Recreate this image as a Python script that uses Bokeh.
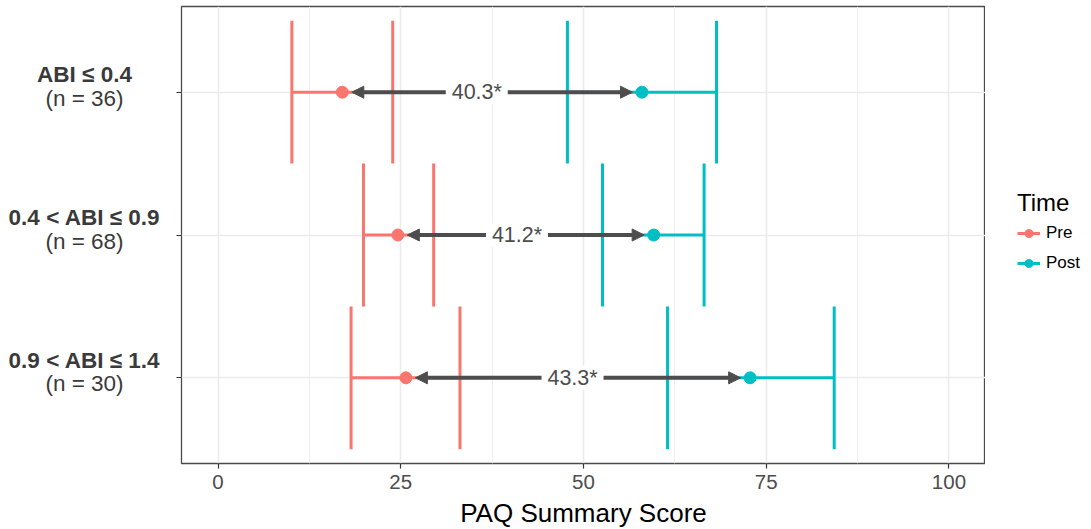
from bokeh.plotting import figure
from bokeh.models import (Range1d, FixedTicker, Arrow, NormalHead, ColumnDataSource,
                          Legend, LegendItem)
from bokeh.layouts import row
from bokeh.embed import file_html
from bokeh.resources import INLINE
from bokeh.core.properties import value

# ---------------- data ----------------
groups = ["ABI \u2264 0.4", "0.4 < ABI \u2264 0.9", "0.9 < ABI \u2264 1.4"]
group_n = [36, 68, 30]
pre_mean = [17.0, 24.6, 25.7]
pre_lower = [10.1, 19.9, 18.2]
pre_upper = [23.9, 29.5, 33.1]
post_mean = [58.0, 59.6, 72.8]
post_lower = [47.8, 52.6, 61.5]
post_upper = [68.2, 66.5, 84.3]
change_labels = ["40.3*", "41.2*", "43.3*"]
change_label_x = [35.4, 40.9, 48.5]
x_ticks = [0, 25, 50, 75, 100]
x_minor = [12.5, 37.5, 62.5, 87.5]
time_levels = ["Pre", "Post"]
time_colors = ["#F8766D", "#00BFC4"]

# ---------------- styling ----------------
FONT = "Liberation Sans"
FRAME_H = 457
TOP = 6
CAP = 0.5          # half height of error-bar caps (category units)
GAP = 1.3          # arrow gap from points (x units)

ypos = list(range(1, len(groups) + 1))
src = ColumnDataSource(dict(
    y=ypos,
    y_lo=[v - CAP for v in ypos],
    y_hi=[v + CAP for v in ypos],
    pre_m=pre_mean, pre_lo=pre_lower, pre_hi=pre_upper,
    post_m=post_mean, post_lo=post_lower, post_hi=post_upper,
    a_x0=[v + GAP for v in pre_mean],
    a_x1=[v - GAP for v in post_mean],
    lab=change_labels, lab_x=change_label_x,
    grp=groups, n_lab=["(n = %d)" % n for n in group_n],
))

yr = Range1d(start=len(groups) + 0.6, end=0.4)
series = [("Pre", time_colors[0], "pre_m", "pre_lo", "pre_hi"),
          ("Post", time_colors[1], "post_m", "post_lo", "post_hi")]

# ---------------- main plot ----------------
p = figure(frame_width=804, frame_height=FRAME_H, x_range=Range1d(-5, 105), y_range=yr,
           output_backend="svg", toolbar_location=None,
           min_border_left=12, min_border_right=0, min_border_top=TOP, min_border_bottom=10)
p.background_fill_color = "white"
p.border_fill_color = "white"
p.outline_line_color = "#4a4a4a"
p.outline_line_width = 1.3

p.xaxis.ticker = FixedTicker(ticks=x_ticks, minor_ticks=x_minor)
p.yaxis.ticker = FixedTicker(ticks=ypos)
p.yaxis.major_label_overrides = {v: "" for v in ypos}
p.yaxis.major_label_standoff = 0

for ax in (p.xaxis[0], p.yaxis[0]):
    ax.axis_line_color = None
    ax.major_tick_line_color = "#333333"
    ax.major_tick_line_width = 1.2
    ax.major_tick_out = 5
    ax.major_tick_in = 0
    ax.minor_tick_line_color = None

p.xaxis.major_label_text_font = FONT
p.xaxis.major_label_text_font_size = "20.5px"
p.xaxis.major_label_text_color = "#4D4D4D"
p.xaxis.major_label_standoff = 6
p.xaxis.axis_label = "PAQ Summary Score"
p.xaxis.axis_label_text_font = FONT
p.xaxis.axis_label_text_font_size = "26px"
p.xaxis.axis_label_text_font_style = "normal"
p.xaxis.axis_label_text_color = "black"
p.xaxis.axis_label_standoff = 6

p.xgrid.grid_line_color = "#EBEBEB"
p.xgrid.grid_line_width = 1.6
p.xgrid.minor_grid_line_color = "#EFEFEF"
p.xgrid.minor_grid_line_width = 1.0
p.ygrid.grid_line_color = "#EBEBEB"
p.ygrid.grid_line_width = 1.6

for lvl, col, m, lo, hi in series:
    p.segment(x0=lo, y0="y", x1=hi, y1="y", source=src, line_color=col, line_width=3)
    p.segment(x0=lo, y0="y_lo", x1=lo, y1="y_hi", source=src, line_color=col, line_width=3)
    p.segment(x0=hi, y0="y_lo", x1=hi, y1="y_hi", source=src, line_color=col, line_width=3)
    p.scatter(x=m, y="y", source=src, size=12, fill_color=col, line_color=col)

arrow = Arrow(start=NormalHead(size=12, fill_color="#4D4D4D", line_color="#4D4D4D"),
              end=NormalHead(size=12, fill_color="#4D4D4D", line_color="#4D4D4D"),
              x_start="a_x0", y_start="y", x_end="a_x1", y_end="y", source=src,
              line_color="#4D4D4D", line_width=4)
p.add_layout(arrow)

bg = p.rect(x="lab_x", y="y", width=62, height=24, width_units="screen", height_units="screen",
            source=src, fill_color="white", line_color=None)
bg.level = "overlay"
tx = p.text(x="lab_x", y="y", text="lab", source=src, text_font=value(FONT),
            text_font_size="21.5px", text_color="#4D4D4D", text_align="center",
            text_baseline="middle")
tx.level = "overlay"

# ---------------- legend panel (right) ----------------
lg = figure(frame_width=106, frame_height=FRAME_H, x_range=Range1d(1000, 1001), y_range=yr,
            output_backend="svg", toolbar_location=None,
            x_axis_location=None, y_axis_location=None,
            min_border_left=0, min_border_right=0, min_border_top=TOP, min_border_bottom=0)
lg.outline_line_color = None
lg.grid.visible = False
lg.background_fill_color = "white"
lg.border_fill_color = "white"
items = []
for lvl, col, m, lo, hi in series:
    # key glyphs only: the data lies outside this panel's x range
    r1 = lg.segment(x0=lo, y0="y", x1=hi, y1="y", source=src, line_color=col, line_width=3)
    r2 = lg.scatter(x=m, y="y", source=src, size=11, fill_color=col, line_color=col)
    items.append(LegendItem(label=lvl, renderers=[r1, r2]))

legend = Legend(items=items, title="Time", location=(32, 190), orientation="vertical")
legend.title_text_font = FONT
legend.title_text_font_size = "24px"
legend.title_text_font_style = "normal"
legend.title_text_color = "black"
legend.title_standoff = 6
legend.label_text_font = FONT
legend.label_text_font_size = "17px"
legend.label_text_color = "black"
legend.glyph_width = 23
legend.glyph_height = 20
legend.label_height = 20
legend.spacing = 10
legend.label_standoff = 6
legend.padding = 0
legend.margin = 0
legend.border_line_color = None
legend.background_fill_alpha = 0
lg.add_layout(legend, "center")

# ---------------- left label panel ----------------
lf = figure(frame_width=169, frame_height=FRAME_H, x_range=Range1d(0, 169), y_range=yr,
            output_backend="svg", toolbar_location=None,
            x_axis_location=None, y_axis_location=None,
            min_border_left=0, min_border_right=0, min_border_top=TOP, min_border_bottom=0)
lf.outline_line_color = None
lf.grid.visible = False
lf.background_fill_color = "white"
lf.border_fill_color = "white"
lf.text(x=84, y="y", text="grp", source=src, text_font=value(FONT), text_font_size="22.5px",
        text_font_style="bold", text_color="#3A3A3A", text_align="center",
        text_baseline="alphabetic", y_offset=-17.5)
lf.text(x=84, y="y", text="n_lab", source=src, text_font=value(FONT), text_font_size="22.5px",
        text_color="#3A3A3A", text_align="center", text_baseline="alphabetic", y_offset=6)

layout = row(lf, p, lg)
open("out.html", "w").write(file_html(layout, INLINE))
